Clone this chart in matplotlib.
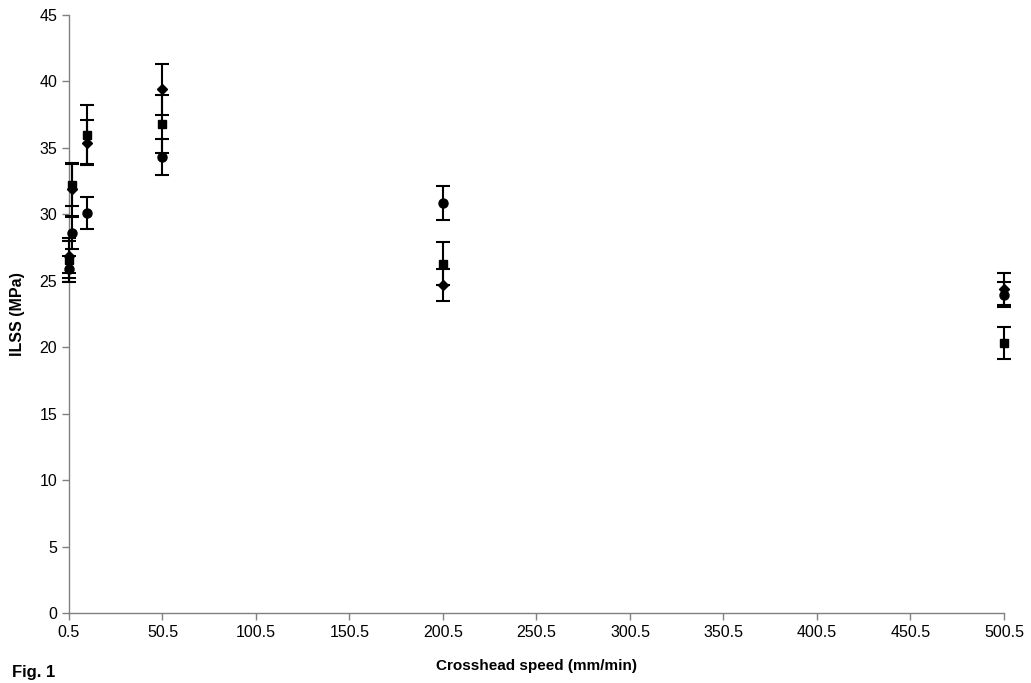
import matplotlib
matplotlib.use("Agg")
import matplotlib.pyplot as plt

plt.rcParams['font.family'] = ['Liberation Sans', 'DejaVu Sans']

speed = [0.5, 2, 10, 50.5, 200.5, 500.5]

diamond_y = [26.9, 31.9, 35.4, 39.4, 24.7, 24.4]
diamond_err = [1.3, 2.0, 1.7, 1.9, 1.2, 1.2]

square_y = [26.6, 32.2, 36.0, 36.8, 26.3, 20.3]
square_err = [1.4, 1.6, 2.2, 2.2, 1.6, 1.2]

circle_y = [25.9, 28.6, 30.1, 34.3, 30.85, 23.95]
circle_err = [1.0, 1.2, 1.2, 1.35, 1.25, 0.95]

xticks = [0.5, 50.5, 100.5, 150.5, 200.5, 250.5, 300.5, 350.5, 400.5, 450.5, 500.5]
xticklabels = ["0.5", "50.5", "100.5", "150.5", "200.5", "250.5", "300.5", "350.5", "400.5", "450.5", "500.5"]
yticks = [0, 5, 10, 15, 20, 25, 30, 35, 40, 45]

fig = plt.figure(figsize=(10.31, 6.83), dpi=100)
ax = fig.add_axes([0.0669, 0.1025, 0.9069, 0.8755])

common = dict(color='black', ecolor='black', elinewidth=1.5, capsize=5, capthick=1.5, linestyle='none')
ax.errorbar(speed, diamond_y, yerr=diamond_err, marker='D', markersize=5, **common)
ax.errorbar(speed, square_y, yerr=square_err, marker='s', markersize=6, **common)
ax.errorbar(speed, circle_y, yerr=circle_err, marker='o', markersize=6.5, **common)

ax.set_xlim(0.5, 500.5)
ax.set_ylim(0, 45)
ax.set_xticks(xticks)
ax.set_xticklabels(xticklabels)
ax.set_yticks(yticks)
ax.tick_params(axis='both', labelsize=11.5, direction='out', length=5, color='#808080', width=1)
ax.spines['top'].set_visible(False)
ax.spines['right'].set_visible(False)
for s in ('left', 'bottom'):
    ax.spines[s].set_color('#808080')
    ax.spines[s].set_linewidth(1)
for sp in ax.spines.values():
    sp.set_zorder(0)
ax.set_xlabel('Crosshead speed (mm/min)', fontsize=11, fontweight='bold', labelpad=14)
ax.set_ylabel('ILSS (MPa)', fontsize=11.5, fontweight='bold', labelpad=10)
for c in ax.collections + ax.lines:
    c.set_clip_on(False)

fig.text(0.012, 0.004, 'Fig. 1', fontsize=12, fontweight='bold', ha='left', va='bottom')

fig.savefig('out.png', dpi=100)
